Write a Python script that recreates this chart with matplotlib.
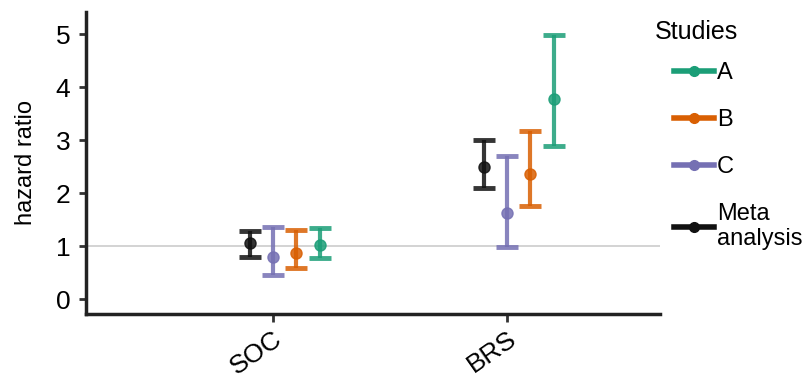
import numpy as np
import matplotlib.pyplot as plt
from matplotlib.lines import Line2D

plt.rcParams['font.family'] = ['Liberation Sans', 'DejaVu Sans']

# 데이터
categories = ['SOC', 'BRS']
studies    = ['Meta\nanalysis', 'C', 'B', 'A']
colors     = ['#111111', '#7570b3', '#d95f02', '#1b9e77']
offsets    = [-0.1, 0.0, 0.1, 0.2]

hr_center = {
    'Meta\nanalysis': [1.05, 2.49],
    'C':              [0.79, 1.62],
    'B':              [0.87, 2.36],
    'A':              [1.02, 3.77],
}
hr_low = {
    'Meta\nanalysis': [0.79, 2.09],
    'C':              [0.45, 0.98],
    'B':              [0.58, 1.75],
    'A':              [0.77, 2.89],
}
hr_high = {
    'Meta\nanalysis': [1.28, 3.00],
    'C':              [1.36, 2.70],
    'B':              [1.30, 3.17],
    'A':              [1.34, 4.98],
}

fig = plt.figure(figsize=(8.08, 3.82), dpi=100)
ax = fig.add_axes([0.106, 0.178, 0.711, 0.791])

x = np.arange(len(categories))
ax.axhline(1, color='#cccccc', lw=1.2, zorder=0)

for s, c, off in zip(studies, colors, offsets):
    y  = np.array(hr_center[s])
    lo = y - np.array(hr_low[s])
    hi = np.array(hr_high[s]) - y
    ax.errorbar(x + off, y, yerr=[lo, hi], fmt='o', color=c, ms=8,
                elinewidth=3, capsize=8, capthick=3.5, alpha=0.85)

ax.set_xlim(-0.8, 1.654)
ax.set_ylim(-0.28, 5.42)
ax.set_xticks(x)
ax.set_xticklabels(categories, rotation=35, ha='right', rotation_mode='anchor',
                   fontsize=19)
ax.set_yticks(range(6))
ax.tick_params(axis='y', labelsize=19, length=5, width=2, color='#333333', pad=6)
ax.tick_params(axis='x', length=6, width=2, color='#333333', pad=3)
ax.set_ylabel('hazard ratio', fontsize=17)
ax.yaxis.set_label_coords(-0.085, 0.5)

for sp in ['top', 'right']:
    ax.spines[sp].set_visible(False)
for sp in ['left', 'bottom']:
    ax.spines[sp].set_linewidth(2.5)
    ax.spines[sp].set_color('#222222')

# 범례
handles = [Line2D([], [], color=c, lw=4, marker='o', ms=7)
           for c in ['#1b9e77', '#d95f02', '#7570b3', '#111111']]
labels = ['A', 'B', 'C', 'Meta\nanalysis']
fig.text(655 / 808, 1 - 32 / 382, 'Studies', fontsize=18, va='center', ha='left')
leg = ax.legend(handles, labels, loc='upper left',
                bbox_to_anchor=(1.0, 0.88), frameon=False, fontsize=17,
                handlelength=1.7, handletextpad=0.1,
                labelspacing=1.05, borderaxespad=0.2)

fig.savefig('out.png', dpi=100)
